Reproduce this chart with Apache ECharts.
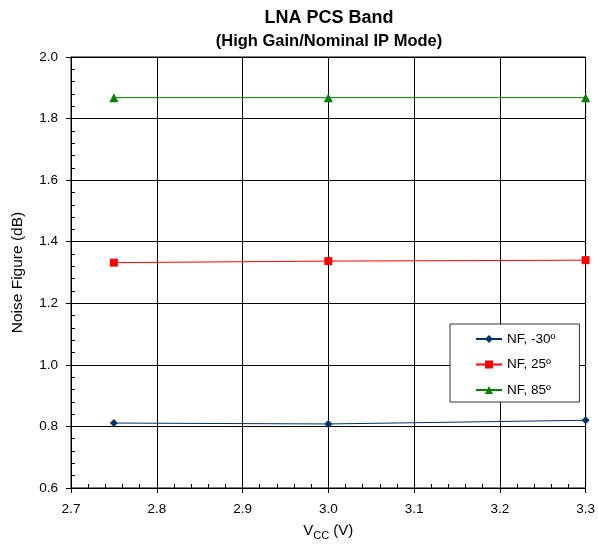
<!DOCTYPE html>
<html><head><meta charset="utf-8">
<script src="https://cdn.jsdelivr.net/npm/echarts@6/dist/echarts.min.js"></script>
<style>html,body{margin:0;padding:0;background:#fff}#c{width:598px;height:547px}</style>
</head><body><div id="c"></div>
<script>
const vcc = [2.75, 3.0, 3.3];
const nfM30 = [0.811, 0.808, 0.820];
const nf25 = [1.332, 1.337, 1.340];
const nf85 = [1.868, 1.868, 1.868];
const seriesNames = ['NF, -30º', 'NF, 25º', 'NF, 85º'];
const FONT = 'Liberation Sans, Arial, sans-serif';

const chart = echarts.init(document.getElementById('c'));
function pts(ys){ return vcc.map((x,i)=>[x, ys[i]]); }
chart.setOption({
  animation: false,
  backgroundColor: '#fff',
  textStyle: {fontFamily: FONT, color: '#000'},
  title: [
    {text: 'LNA PCS Band', left: 324, textAlign: 'center', top: 4,
     textStyle: {fontFamily: FONT, fontSize: 18, fontWeight: 'bold', color: '#000'}},
    {text: '(High Gain/Nominal IP Mode)', left: 324, textAlign: 'center', top: 28,
     textStyle: {fontFamily: FONT, fontSize: 16.5, fontWeight: 'bold', color: '#000'}}
  ],
  grid: {left: 71, right: 11, top: 57, bottom: 59, show: true, borderColor: '#000', borderWidth: 1},
  legend: {
    left: 450, top: 324, orient: 'vertical',
    backgroundColor: '#fff', borderColor: '#333', borderWidth: 1,
    padding: [8, 24, 5, 25], itemGap: 11.5, itemWidth: 26, itemHeight: 10,
    textStyle: {fontFamily: FONT, fontSize: 13.5, color: '#000'},
    data: seriesNames
  },
  xAxis: [
    {type: 'value', min: 2.7, max: 3.3, interval: 0.1,
     name: '{v|V}{s|CC}{v| (V)}', nameLocation: 'middle', nameGap: 35,
     nameTextStyle: {rich: {v: {fontFamily: FONT, fontSize: 15, color: '#000', verticalAlign: 'bottom'},
                            s: {fontFamily: FONT, fontSize: 11, color: '#000', verticalAlign: 'bottom', padding:[0,0,-3,0]}}},
     axisLine: {show: true, lineStyle: {color: '#000'}},
     axisTick: {show: true, length: 5, lineStyle: {color: '#000'}},
     axisLabel: {fontFamily: FONT, fontSize: 13.5, color: '#000', margin: 14, formatter: v => v.toFixed(1)},
     splitLine: {show: true, lineStyle: {color: '#000', width: 1}}},
    {type: 'value', min: 2.7, max: 3.3, interval: 0.1, position: 'bottom',
     axisLine: {show: false}, axisLabel: {show: false}, splitLine: {show: false},
     axisTick: {show: false, inside: true},
     minorTick: {show: true, splitNumber: 5, length: 4, lineStyle: {color: '#000'}}}
  ],
  yAxis: [
    {type: 'value', min: 0.6, max: 2.0, interval: 0.2,
     name: 'Noise Figure (dB)', nameLocation: 'middle', nameGap: 45,
     nameTextStyle: {fontFamily: FONT, fontSize: 15.5, color: '#000'},
     axisLine: {show: true, lineStyle: {color: '#000'}},
     axisTick: {show: true, length: 5, lineStyle: {color: '#000'}},
     axisLabel: {fontFamily: FONT, fontSize: 13.5, color: '#000', margin: 13, formatter: v => v.toFixed(1)},
     splitLine: {show: true, lineStyle: {color: '#000', width: 1}}},
    {type: 'value', min: 0.6, max: 2.0, interval: 0.2, position: 'left',
     axisLine: {show: false}, axisLabel: {show: false}, splitLine: {show: false},
     axisTick: {show: false, inside: true},
     minorTick: {show: true, splitNumber: 5, length: 4, lineStyle: {color: '#000'}}}
  ],
  series: [
    {name: seriesNames[0], type: 'line', data: pts(nfM30), symbol: 'diamond', symbolSize: 8,
     itemStyle: {color: '#003366'}, lineStyle: {color: '#003366', width: 1}},
    {name: seriesNames[1], type: 'line', data: pts(nf25), symbol: 'rect', symbolSize: 8,
     itemStyle: {color: '#ff0000'}, lineStyle: {color: '#ff0000', width: 1}},
    {name: seriesNames[2], type: 'line', data: pts(nf85), symbol: 'triangle', symbolSize: 9,
     itemStyle: {color: '#008000'}, lineStyle: {color: '#008000', width: 1}}
  ]
});
</script></body></html>
